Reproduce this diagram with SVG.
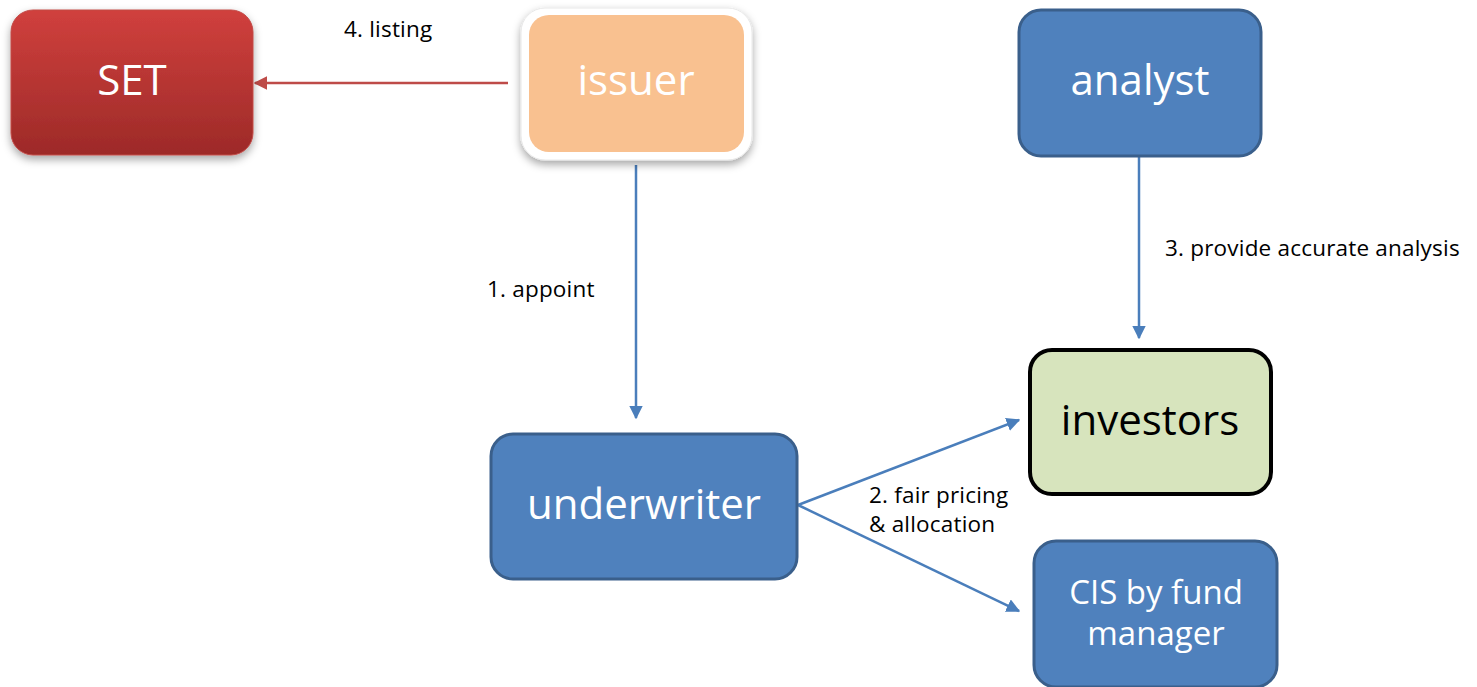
<svg xmlns="http://www.w3.org/2000/svg" width="1477" height="687" viewBox="0 0 1477 687">
<defs>
<linearGradient id="red" x1="0" y1="0" x2="0" y2="1">
<stop offset="0" stop-color="#d0403d"/>
<stop offset="1" stop-color="#9d2a28"/>
</linearGradient>
<filter id="sh" x="-20%" y="-20%" width="140%" height="150%">
<feDropShadow dx="0" dy="4" stdDeviation="4" flood-color="#000" flood-opacity="0.35"/>
</filter>
<marker id="ab" viewBox="0 0 10 10" refX="9" refY="5" markerWidth="5.5" markerHeight="5.5" orient="auto" markerUnits="strokeWidth">
<path d="M0,0 L10,5 L0,10 z" fill="#4a7ebb"/>
</marker>
<marker id="ar" viewBox="0 0 10 10" refX="9" refY="5" markerWidth="5.5" markerHeight="5.5" orient="auto" markerUnits="strokeWidth">
<path d="M0,0 L10,5 L0,10 z" fill="#be4b48"/>
</marker>
</defs>
<style>
.lbl{font-family:"Open Sans","Liberation Sans",sans-serif;font-size:22.5px;letter-spacing:0.2px;fill:#000}
.nt{font-family:"Open Sans","Liberation Sans",sans-serif;font-size:42px;text-anchor:middle}
.blue{fill:#4f81bd;stroke:#3a5f8b;stroke-width:3}
.cb{stroke:#4a7ebb;stroke-width:2.5;fill:none;marker-end:url(#ab)}
</style>
<rect width="1477" height="687" fill="#fff"/>
<g id="connectors">
<line class="cb" x1="636" y1="165" x2="636" y2="418"/>
<line class="cb" x1="1139" y1="156" x2="1139" y2="338"/>
<line class="cb" x1="798" y1="505" x2="1019" y2="420"/>
<line class="cb" x1="798" y1="505" x2="1019" y2="611"/>
<line x1="508" y1="83" x2="255" y2="83" stroke="#be4b48" stroke-width="2.5" marker-end="url(#ar)"/>
<text class="lbl" x="344" y="37">4. listing</text>
<text class="lbl" x="487" y="297">1. appoint</text>
<text class="lbl" x="1165" y="256">3. provide accurate analysis</text>
<text class="lbl" x="869" y="503">2. fair pricing</text>
<text class="lbl" x="869" y="532">&amp; allocation</text>
</g>
<g id="SET">
<rect x="11" y="10" width="242" height="145" rx="22" fill="url(#red)" stroke="#c14a47" stroke-width="1" filter="url(#sh)"/>
<text class="nt" x="132" y="95" fill="#fff">SET</text>
</g>
<g id="issuer">
<rect x="521" y="8" width="231" height="152" rx="24" fill="#fff" stroke="#e8e8e8" stroke-width="1" filter="url(#sh)"/>
<rect x="529" y="15" width="215" height="137" rx="20" fill="#f9c190"/>
<text class="nt" x="636" y="95" fill="#fff">issuer</text>
</g>
<g id="analyst">
<rect class="blue" x="1019" y="10" width="242" height="146" rx="22"/>
<text class="nt" x="1140" y="95" fill="#fff">analyst</text>
</g>
<g id="investors">
<rect x="1030" y="350" width="241" height="144" rx="22" fill="#d7e4bd" stroke="#000" stroke-width="4"/>
<text class="nt" x="1150" y="435" fill="#000">investors</text>
</g>
<g id="underwriter">
<rect class="blue" x="491" y="434" width="306" height="145" rx="22"/>
<text class="nt" x="644" y="519" fill="#fff">underwriter</text>
</g>
<g id="cis">
<rect class="blue" x="1034" y="541" width="243" height="146" rx="22"/>
<text class="nt" x="1156" y="604" fill="#fff" style="font-size:33px">CIS by fund</text>
<text class="nt" x="1156" y="645" fill="#fff" style="font-size:33px">manager</text>
</g>
</svg>
